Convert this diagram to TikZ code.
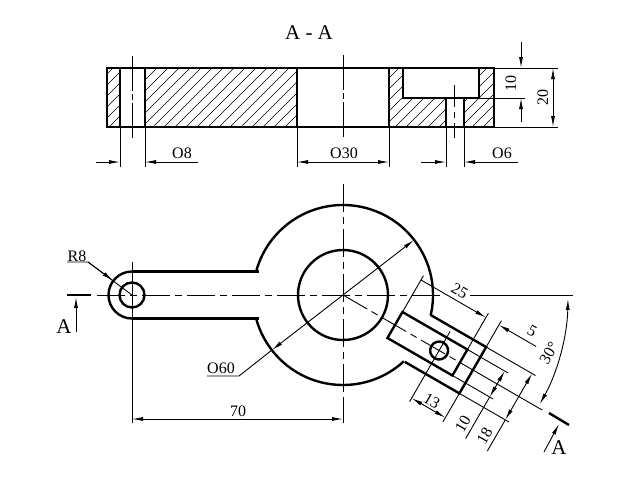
\documentclass[tikz,border=0pt]{standalone}
\usepackage{fontspec}
\setmainfont{Liberation Serif}
\usetikzlibrary{arrows.meta}
\tikzset{
	outline/.style={line width=2.4pt},
	thinline/.style={line width=0.9pt},
	hatchline/.style={line width=0.6pt},
	centerline/.style={line width=0.9pt,dash pattern=on 28pt off 5pt on 7pt off 5pt},
	sectionline/.style={line width=0.9pt,dash pattern=on 35pt off 3pt on 6pt off 3pt},
	dimtext/.style={font=\fontsize{16}{16}\selectfont,inner sep=0pt},
	bigtext/.style={font=\fontsize{21}{21}\selectfont,inner sep=0pt},
	>={Latex[length=11pt,width=4pt]}
}
\begin{document}
\begin{tikzpicture}[x=1pt,y=-1pt]
	\useasboundingbox (0,0) rectangle (640,480);

	% Section title
	\node[bigtext] (titleAA) at (309,33) {A - A};

	% Section hatching
	\begin{scope}
		\clip (107,68) rectangle (119,127)
			(145,68) rectangle (297,127)
			(389,68) -- (403,68) -- (403,98) -- (446,98) -- (446,127) -- (389,127) -- cycle
			(464,98) -- (479,98) -- (479,68) -- (494,68) -- (494,127) -- (464,127) -- cycle;
		\foreach \c in {170,181,...,620}
			\draw[hatchline] (\c-68,68) -- (\c-127,127);
	\end{scope}

	% Section outline
	\draw[outline] (107,68) rectangle (494,127);
	\draw[outline] (120,68) -- (120,127);
	\draw[outline] (145,68) -- (145,127);
	\draw[outline] (297,68) -- (297,127);
	\draw[outline] (389,68) -- (389,127);
	\draw[outline] (403,68) -- (403,98) -- (479,98) -- (479,68);
	\draw[outline] (446,98) -- (446,127);
	\draw[outline] (464,98) -- (464,127);

	% Section center lines
	\draw[sectionline] (132,56) -- (132,138);
	\draw[sectionline] (343,55) -- (343,138);
	\draw[sectionline,dash pattern=on 22pt off 5pt on 6pt off 5pt] (454,85) -- (454,138);

	% Section dimensions
	\draw[thinline] (120,127) -- (120,167);
	\draw[thinline] (145,127) -- (145,167);
	\draw[thinline,->] (96,162) -- (120,162);
	\draw[thinline,->] (198,162) -- (145,162);
	\node[dimtext] (dimHoleA) at (182,153) {O8};
	\draw[thinline] (297,127) -- (297,167);
	\draw[thinline] (389,127) -- (389,167);
	\draw[thinline,<->] (297,162) -- (389,162);
	\node[dimtext] (dimBore) at (344,153) {O30};
	\draw[thinline] (446,127) -- (446,167);
	\draw[thinline] (464,127) -- (464,167);
	\draw[thinline,->] (421,162) -- (446,162);
	\draw[thinline,->] (518,162) -- (464,162);
	\node[dimtext] (dimHoleB) at (502,153) {O6};
	\draw[thinline] (494,68) -- (558,68);
	\draw[thinline] (479,98) -- (525,98);
	\draw[thinline] (494,127) -- (558,127);
	\draw[thinline,->] (521,42) -- (521,68);
	\draw[thinline,->] (521,122) -- (521,98);
	\node[dimtext,rotate=90] (dimPocket) at (511,83) {10};
	\draw[thinline,<->] (553,68) -- (553,127);
	\node[dimtext,rotate=90] (dimHeight) at (543,97) {20};

	% Plan outline
	\draw[outline] (343,295) circle (45);
	\draw[outline] (132,295) circle (12.5);
	\draw[outline] (343,295) ++(-164.9:90) arc[start angle=-164.9,end angle=13.2,radius=90];
	\draw[outline] (343,295) ++(47.4:90) arc[start angle=47.4,end angle=164.9,radius=90];
	\draw[outline] (132,271.5) arc[start angle=-90,end angle=-270,radius=23.5];
	\draw[outline] (132,271.5) -- (259,271.5);
	\draw[outline] (132,318.5) -- (259,318.5);

	% Plan center lines
	\draw[centerline] (97,295) -- (442,295);
	\draw[centerline] (343,184) -- (343,400);
	\draw[thinline] (343,400) -- (343,423);
	\draw[thinline] (132,262) -- (132,423);
	\draw[thinline] (470,295) -- (573,295);

	% Slot, turned along its axis
	\begin{scope}[shift={(343,295)},rotate=-30]
		\draw[outline] (86,-26.5) -- (150,-26.5) -- (150,27) -- (87,27);
		\draw[outline] (60,-15) rectangle (135,15);
		\draw[outline] (111,0) circle (9);
		\draw[centerline] (0,0) -- (150,0);
		\draw[thinline] (150,0) -- (230,0);
		\draw[thinline] (111,-22) -- (111,59);

		% Slot dimensions
		\draw[thinline] (60,-15) -- (60,-57);
		\draw[thinline] (135,-15) -- (135,-57);
		\draw[thinline] (150,-26.5) -- (150,-57);
		\draw[thinline,->] (60,-52) -- (135,-52);
		\draw[thinline,->] (193,-52) -- (150,-52);
		\node[dimtext,rotate=-30] (dimSlotPos) at (99,-62) {25};
		\node[dimtext,rotate=-30] (dimSlotEnd) at (182,-63) {5};
		\draw[thinline] (135,-15) -- (182,-15);
		\draw[thinline] (135,15) -- (182,15);
		\draw[thinline] (150,-26.5) -- (207,-26.5);
		\draw[thinline] (150,27) -- (207,27);
		\draw[thinline,<->] (178,-15) -- (178,15);
		\draw[thinline] (178,15) -- (178,63);
		\node[dimtext,rotate=60] (dimSlotWidth) at (168,51.5) {10};
		\draw[thinline,<->] (203,-26.5) -- (203,27);
		\draw[thinline] (203,27) -- (203,63);
		\node[dimtext,rotate=60] (dimTabWidth) at (193,51) {18};
		\draw[thinline] (150,27) -- (150,60);
		\draw[thinline,<->] (111,55) -- (150,55);
		\node[dimtext,rotate=-30] (dimHolePos) at (130,47.5) {13};
	\end{scope}

	% Angle
	\draw[thinline,<->] (343,295) ++(1:225) arc[start angle=1,end angle=29,radius=225];
	\node[dimtext,rotate=60] (dimAngle) at (549,353) {30°};

	% Leaders
	\draw[thinline] (67,262) -- (88,262) -- (132,295);
	\draw[thinline,->] (88,262) -- (113,280.5);
	\node[dimtext] (dimRadius) at (77,256) {R8};
	\draw[thinline] (207,376) -- (239,376) -- (272,350);
	\draw[thinline,<->] (272,350) -- (414,240);
	\node[dimtext] (dimOuter) at (221,368) {O60};
	\draw[thinline,<->] (132,419) -- (343,419);
	\node[dimtext] (dimCenters) at (238,411) {70};

	% Section marks
	\draw[outline] (67,295) -- (91,295);
	\draw[thinline,->] (76,332) -- (76,297);
	\node[bigtext] (markLeft) at (64,327) {A};
	\draw[outline] (549,413) -- (569,425);
	\draw[thinline,->] (544,452) -- (559,424);
	\node[bigtext] (markRight) at (559,448) {A};
\end{tikzpicture}
\end{document}
